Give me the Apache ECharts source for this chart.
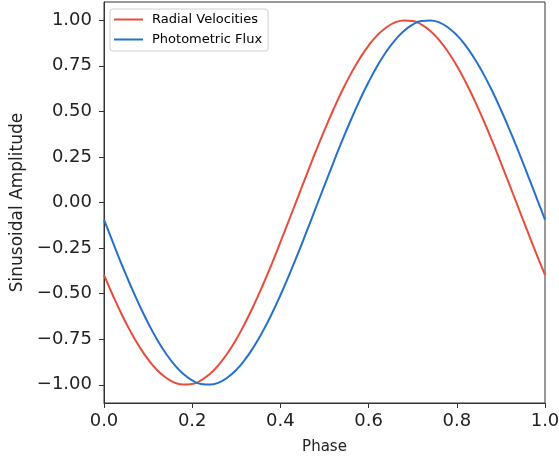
<!DOCTYPE html>
<html>
<head>
<meta charset="utf-8">
<script src="https://cdn.jsdelivr.net/npm/echarts@6/dist/echarts.min.js"></script>
<style>html,body{margin:0;padding:0;background:#fff}#c{width:559px;height:458px}</style>
</head>
<body>
<div id="c"></div>
<script>
const phase = [0.00,0.02,0.04,0.06,0.08,0.10,0.12,0.14,0.16,0.18,0.20,0.22,0.24,0.26,0.28,0.30,0.32,0.34,0.36,0.38,0.40,0.42,0.44,0.46,0.48,0.50,0.52,0.54,0.56,0.58,0.60,0.62,0.64,0.66,0.68,0.70,0.72,0.74,0.76,0.78,0.80,0.82,0.84,0.86,0.88,0.90,0.92,0.94,0.96,0.98,1.00];
const radialVelocities = [-0.397,-0.509,-0.613,-0.707,-0.790,-0.861,-0.918,-0.960,-0.988,-0.999,-0.996,-0.976,-0.941,-0.891,-0.827,-0.750,-0.661,-0.562,-0.454,-0.339,-0.218,-0.094,0.031,0.156,0.279,0.397,0.509,0.613,0.707,0.790,0.861,0.918,0.960,0.988,0.999,0.996,0.976,0.941,0.891,0.827,0.750,0.661,0.562,0.454,0.339,0.218,0.094,-0.031,-0.156,-0.279,-0.397];
const photometricFlux = [-0.094,-0.218,-0.339,-0.454,-0.562,-0.661,-0.750,-0.827,-0.891,-0.941,-0.976,-0.996,-0.999,-0.988,-0.960,-0.918,-0.861,-0.790,-0.707,-0.613,-0.509,-0.397,-0.279,-0.156,-0.031,0.094,0.218,0.339,0.454,0.562,0.661,0.750,0.827,0.891,0.941,0.976,0.996,0.999,0.988,0.960,0.918,0.861,0.790,0.707,0.613,0.509,0.397,0.279,0.156,0.031,-0.094];
const yTicks = [-1.00,-0.75,-0.50,-0.25,0.00,0.25,0.50,0.75,1.00];
const seriesNames = ['Radial Velocities','Photometric Flux'];

const font = 'DejaVu Sans';
const fmtMinus = s => s.replace('-', '\u2212');
const chart = echarts.init(document.getElementById('c'), null, {renderer:'canvas'});
chart.setOption({
  animation:false,
  backgroundColor:'#fff',
  grid:{left:104,right:14,top:2,bottom:55,outerBoundsMode:'none',containLabel:false,show:true,borderColor:'#333',borderWidth:1,backgroundColor:'transparent'},
  legend:{
    left:110, top:9, orient:'vertical',
    padding:[4,6,5,4],
    itemGap:7, itemWidth:29, itemHeight:2,
    borderColor:'#d0d0d0', borderWidth:1, borderRadius:3,
    textStyle:{fontFamily:font,fontSize:13,color:'#000',padding:[0,0,0,4]},
    data:seriesNames.map(n=>({name:n,icon:'rect'}))
  },
  xAxis:{
    type:'value', min:0, max:1, interval:0.2,
    name:'Phase', nameLocation:'middle', nameGap:37,
    nameTextStyle:{fontFamily:font,fontSize:15,color:'#222'},
    axisLine:{show:true,onZero:false,lineStyle:{color:'#333',width:1}},
    axisTick:{show:true,length:5,lineStyle:{color:'#333'}},
    axisLabel:{fontFamily:font,fontSize:18,color:'#222',margin:9,formatter:v=>fmtMinus(v.toFixed(1))},
    splitLine:{show:false}
  },
  yAxis:{
    type:'value', min:-1.1, max:1.1,
    name:'Sinusoidal Amplitude', nameLocation:'middle', nameGap:77,
    nameTextStyle:{fontFamily:font,fontSize:17,color:'#222'},
    axisLine:{show:true,onZero:false,lineStyle:{color:'#333',width:1}},
    axisTick:{show:true,length:5,lineStyle:{color:'#333'},customValues:yTicks},
    axisLabel:{fontFamily:font,fontSize:18,color:'#222',margin:12,customValues:yTicks,formatter:v=>fmtMinus(v.toFixed(2))},
    splitLine:{show:false}
  },
  series:[
    {name:seriesNames[0],type:'line',smooth:true,showSymbol:false,
     lineStyle:{color:'#e74c3c',width:2},itemStyle:{color:'#e74c3c'},
     data:phase.map((p,i)=>[p,radialVelocities[i]])},
    {name:seriesNames[1],type:'line',smooth:true,showSymbol:false,
     lineStyle:{color:'#2471cc',width:2},itemStyle:{color:'#2471cc'},
     data:phase.map((p,i)=>[p,photometricFlux[i]])}
  ]
});
</script>
</body>
</html>
